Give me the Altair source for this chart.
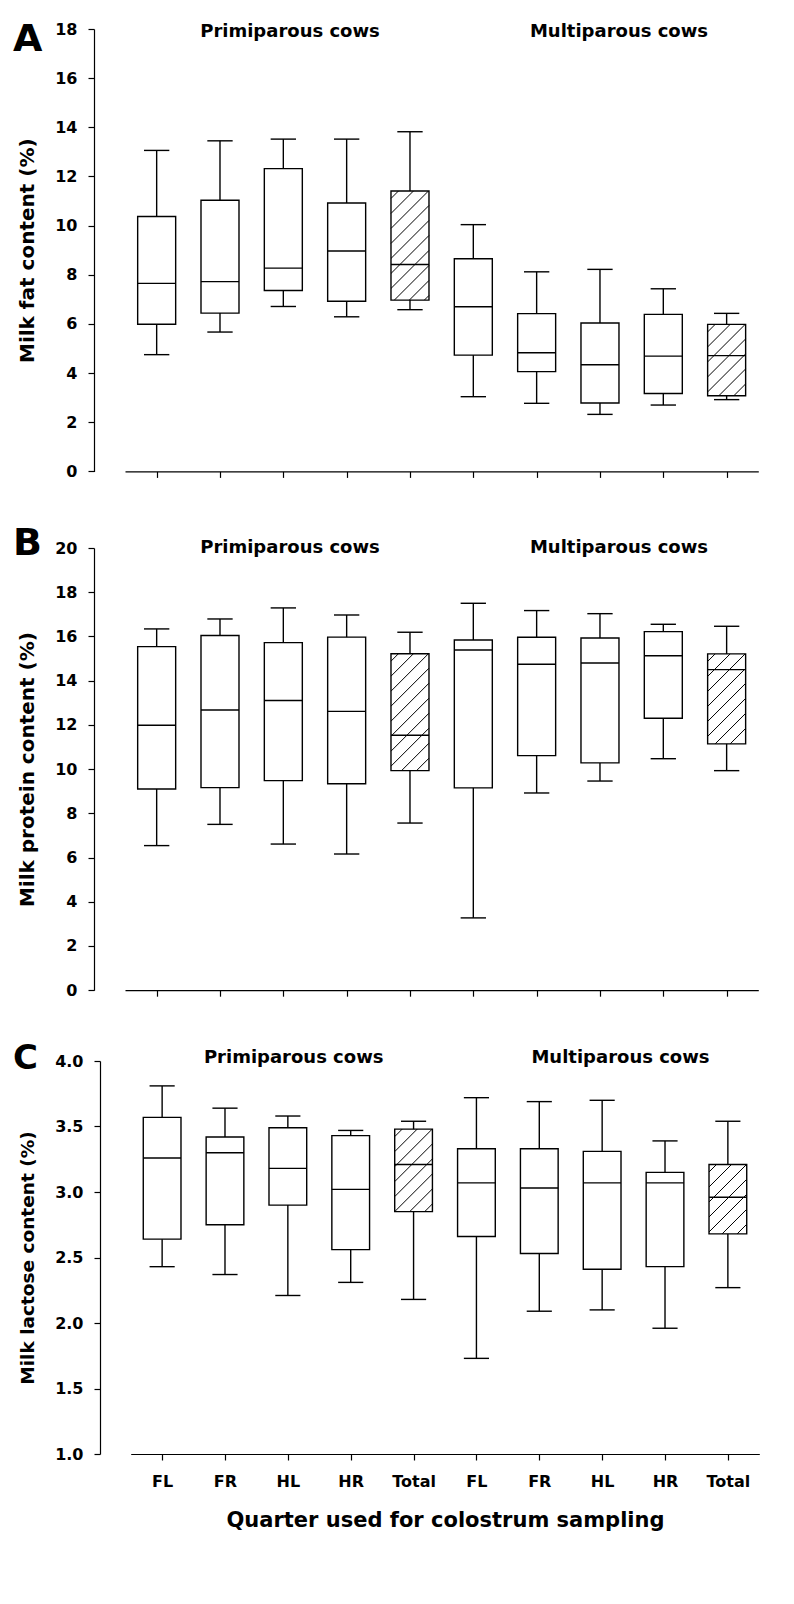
import json
import altair as alt
import pandas as pd

# ---------------- data ----------------
quarters = ["FL", "FR", "HL", "HR", "Total", "FL", "FR", "HL", "HR", "Total"]
panel_letters = ["A", "B", "C"]
group_titles = ["Primiparous cows", "Multiparous cows"]
y_titles = ["Milk fat content (%)", "Milk protein content (%)", "Milk lactose content (%)"]
x_title = "Quarter used for colostrum sampling"

fat_min = [4.75, 5.67, 6.71, 6.29, 6.58, 3.04, 2.77, 2.32, 2.70, 2.92]
fat_q1 = [5.99, 6.44, 7.36, 6.92, 6.97, 4.73, 4.06, 2.78, 3.17, 3.08]
fat_med = [7.65, 7.72, 8.27, 8.97, 8.42, 6.70, 4.83, 4.34, 4.69, 4.71]
fat_q3 = [10.37, 11.03, 12.32, 10.92, 11.41, 8.65, 6.42, 6.04, 6.39, 5.98]
fat_max = [13.06, 13.45, 13.52, 13.52, 13.82, 10.04, 8.12, 8.22, 7.43, 6.43]

protein_min = [6.54, 7.50, 6.61, 6.16, 7.56, 3.27, 8.92, 9.46, 10.47, 9.93]
protein_q1 = [9.10, 9.16, 9.48, 9.34, 9.93, 9.15, 10.61, 10.28, 12.30, 11.14]
protein_med = [11.98, 12.67, 13.10, 12.61, 11.53, 15.39, 14.74, 14.80, 15.13, 14.50]
protein_q3 = [15.54, 16.04, 15.72, 15.97, 15.22, 15.84, 15.96, 15.93, 16.22, 15.21]
protein_max = [16.34, 16.79, 17.29, 16.97, 16.19, 17.50, 17.17, 17.03, 16.55, 16.46]

lactose_min = [2.43, 2.37, 2.21, 2.31, 2.18, 1.73, 2.09, 2.10, 1.96, 2.27]
lactose_q1 = [2.64, 2.75, 2.90, 2.56, 2.85, 2.66, 2.53, 2.41, 2.43, 2.68]
lactose_med = [3.26, 3.30, 3.18, 3.02, 3.21, 3.07, 3.03, 3.07, 3.07, 2.96]
lactose_q3 = [3.57, 3.42, 3.49, 3.43, 3.48, 3.33, 3.33, 3.31, 3.15, 3.21]
lactose_max = [3.81, 3.64, 3.58, 3.47, 3.54, 3.72, 3.69, 3.70, 3.39, 3.54]

hatched_group = "Total"

# ---------------- styling ----------------
FONT = "DejaVu Sans"
BLACK = "#000000"
BOX_HALF = 0.3
CAP_HALF = 0.2
HATCH_GAP = 15.0
LW = 1.4
WIDTH = 634


def make_df(lo, q1, med, q3, hi):
    pos = [i + 0.5 for i in range(len(quarters))]
    df = pd.DataFrame({"pos": pos, "quarter": quarters, "lo": lo, "q1": q1,
                       "med": med, "q3": q3, "hi": hi})
    df["xl"] = df["pos"] - BOX_HALF
    df["xr"] = df["pos"] + BOX_HALF
    df["cl"] = df["pos"] - CAP_HALF
    df["cr"] = df["pos"] + CAP_HALF
    return df


def hatch_df(df, px_x, px_y):
    rows = []
    w = 2 * BOX_HALF * px_x
    for r in df.itertuples():
        if r.quarter != hatched_group:
            continue
        h = (r.q3 - r.q1) * px_y
        c = h - HATCH_GAP / 2
        while c > -w:
            xa = max(0.0, -c)
            xb = min(w, h - c)
            if xb > xa:
                rows.append({
                    "x": r.pos - BOX_HALF + xa / px_x,
                    "y": r.q1 + (xa + c) / px_y,
                    "x2": r.pos - BOX_HALF + xb / px_x,
                    "y2": r.q1 + (xb + c) / px_y,
                })
            c -= HATCH_GAP
    return pd.DataFrame(rows)


def panel(k, lo, q1, med, q3, hi, ydomain, yvalues, yfmt, height, xrange_, yrange_,
          x_offset, y_offset, show_x, letter_size, letter_dy, title_dy, title_xs,
          ytitle_size):
    df = make_df(lo, q1, med, q3, hi)
    px_x = (xrange_[1] - xrange_[0]) / len(quarters)
    px_y = (yrange_[0] - yrange_[1]) / (ydomain[1] - ydomain[0])
    hat = hatch_df(df, px_x, px_y)

    xs = alt.Scale(domain=[0, len(quarters)], range=list(xrange_), nice=False, zero=False)
    ys = alt.Scale(domain=list(ydomain), range=list(yrange_), nice=False, zero=False)

    xaxis_kw = dict(
        values=list(df["pos"]), labels=show_x, grid=False, offset=x_offset,
        domainColor=BLACK, domainWidth=1.2, tickColor=BLACK, tickWidth=1.2, tickSize=6,
        labelFlush=False, labelOverlap=False, labelFont=FONT, labelFontSize=16,
        labelFontWeight="bold", labelColor=BLACK, labelPadding=13,
        labelExpr=json.dumps(quarters) + "[floor(datum.value)]",
    )
    if show_x:
        xaxis_kw.update(title=x_title, titleFont=FONT, titleFontSize=21,
                        titleFontWeight="bold", titleColor=BLACK, titlePadding=20)
    else:
        xaxis_kw.update(title="")
    xaxis = alt.Axis(**xaxis_kw)
    yaxis = alt.Axis(
        values=yvalues, format=yfmt, grid=False, offset=y_offset, title=y_titles[k],
        domainColor=BLACK, domainWidth=1.2, tickColor=BLACK, tickWidth=1.2, tickSize=6,
        labelFlush=False, labelOverlap=False, labelFont=FONT, labelFontSize=16,
        labelFontWeight="bold", labelColor=BLACK, labelPadding=11,
        titleFont=FONT, titleFontSize=ytitle_size, titleFontWeight="bold",
        titleColor=BLACK, titlePadding=17,
    )

    def X(f):
        return alt.X(f, type="quantitative", scale=xs, axis=xaxis)

    def Y(f):
        return alt.Y(f, type="quantitative", scale=ys, axis=yaxis)

    base = alt.Chart(df)
    fill = base.mark_rect(fill="white", strokeWidth=0).encode(
        x=X("xl"), x2="xr", y=Y("q1"), y2="q3")
    hatch = alt.Chart(hat).mark_rule(color=BLACK, strokeWidth=1.0).encode(
        x=X("x"), x2="x2", y=Y("y"), y2="y2")
    outline = base.mark_rect(filled=False, stroke=BLACK, strokeWidth=LW).encode(
        x=X("xl"), x2="xr", y=Y("q1"), y2="q3")
    median = base.mark_rule(color=BLACK, strokeWidth=LW).encode(
        x=X("xl"), x2="xr", y=Y("med"))
    wlo = base.mark_rule(color=BLACK, strokeWidth=LW).encode(
        x=X("pos"), y=Y("lo"), y2="q1")
    whi = base.mark_rule(color=BLACK, strokeWidth=LW).encode(
        x=X("pos"), y=Y("q3"), y2="hi")
    caps = base.transform_fold(["lo", "hi"], as_=["which", "val"]).mark_rule(
        color=BLACK, strokeWidth=LW).encode(x=X("cl"), x2="cr", y=Y("val"))

    one = pd.DataFrame({"k": [0]})
    letter = alt.Chart(one).mark_text(
        text=panel_letters[k], font=FONT, fontWeight="bold", fontSize=letter_size,
        align="left", baseline="alphabetic", color=BLACK,
    ).encode(x=alt.value(-112), y=alt.value(letter_dy))
    titles = [
        alt.Chart(one).mark_text(
            text=t, font=FONT, fontWeight="bold", fontSize=18, align="center",
            baseline="alphabetic", color=BLACK,
        ).encode(x=alt.value(tx), y=alt.value(title_dy))
        for t, tx in zip(group_titles, title_xs)
    ]
    return alt.layer(fill, hatch, outline, median, wlo, whi, caps, letter, *titles).properties(
        width=WIDTH, height=height)


pA = panel(0, fat_min, fat_q1, fat_med, fat_q3, fat_max, (0, 18), list(range(0, 19, 2)), "d",
           442.4, (0, 633.3), (442.4, 0), 0, 31, False, 38, 21.7, 8.4, (165, 494), 20)
pB = panel(1, protein_min, protein_q1, protein_med, protein_q3, protein_max, (0, 20),
           list(range(0, 21, 2)), "d", 437, (0, 633.3), (442.2, 0), 5.2, 31, False,
           38, 6.6, 5, (165, 494), 20)
pC = panel(2, lactose_min, lactose_q1, lactose_med, lactose_q3, lactose_max, (1, 4),
           [1.0, 1.5, 2.0, 2.5, 3.0, 3.5, 4.0], ".1f", 393, (5.7, 634.3), (393, 0), 0, 25,
           True, 34, 7.8, 2, (168.7, 495.5), 18.5)

chart = alt.vconcat(pA, pB, pC, spacing=76, bounds="flush").properties(
    padding={"left": 5, "top": 12, "right": 5, "bottom": 5},
    background="white",
).configure_view(stroke=None)

chart.save("out.html", embed_options={"renderer": "svg", "actions": False})
